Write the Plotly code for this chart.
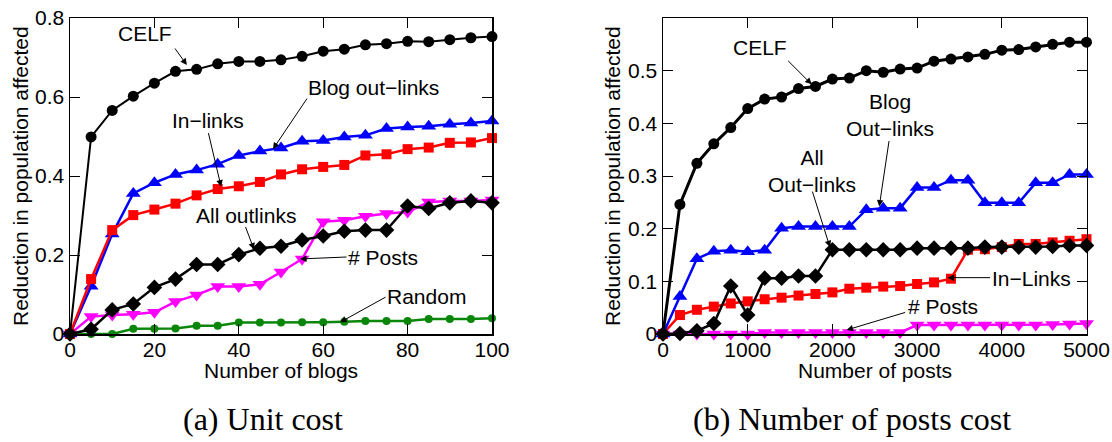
import plotly.graph_objects as go

# ---------------- data: (a) Unit cost ----------------
blogs = [0, 5, 10, 15, 20, 25, 30, 35, 40, 45, 50, 55, 60, 65, 70, 75, 80, 85, 90, 95, 100]
a_celf = [0, 0.499, 0.566, 0.602, 0.635, 0.665, 0.670, 0.684, 0.690, 0.690, 0.694, 0.703,
          0.716, 0.721, 0.732, 0.735, 0.741, 0.740, 0.745, 0.750, 0.753]
a_blog_out = [0, 0.121, 0.253, 0.356, 0.383, 0.404, 0.415, 0.430, 0.452, 0.463, 0.471, 0.488,
              0.490, 0.499, 0.503, 0.520, 0.524, 0.526, 0.531, 0.534, 0.539]
a_in_links = [0, 0.139, 0.263, 0.301, 0.315, 0.330, 0.351, 0.367, 0.374, 0.385, 0.404, 0.417,
              0.423, 0.428, 0.452, 0.455, 0.468, 0.472, 0.484, 0.485, 0.496]
a_all_out = [0, 0.012, 0.061, 0.076, 0.118, 0.139, 0.176, 0.176, 0.201, 0.217, 0.222, 0.238,
             0.248, 0.260, 0.263, 0.263, 0.324, 0.318, 0.332, 0.337, 0.332]
a_posts = [0, 0.044, 0.048, 0.050, 0.055, 0.082, 0.099, 0.120, 0.120, 0.126, 0.157, 0.190,
           0.284, 0.288, 0.298, 0.305, 0.309, 0.334, 0.337, 0.337, 0.339]
a_random = [0, 0, 0, 0.013, 0.013, 0.014, 0.021, 0.021, 0.029, 0.029, 0.029, 0.030,
            0.030, 0.031, 0.033, 0.033, 0.033, 0.038, 0.038, 0.038, 0.040]

# ---------------- data: (b) Number of posts cost ----------------
posts = [0, 200, 400, 600, 800, 1000, 1200, 1400, 1600, 1800, 2000, 2200, 2400, 2600, 2800,
         3000, 3200, 3400, 3600, 3800, 4000, 4200, 4400, 4600, 4800, 5000]
b_celf = [0, 0.246, 0.324, 0.361, 0.392, 0.428, 0.446, 0.450, 0.466, 0.470, 0.484, 0.486,
          0.500, 0.497, 0.503, 0.505, 0.518, 0.522, 0.526, 0.531, 0.539, 0.540, 0.545,
          0.550, 0.554, 0.554]
b_blog_out = [0, 0.071, 0.143, 0.157, 0.159, 0.156, 0.159, 0.201, 0.204, 0.204, 0.204, 0.204,
              0.236, 0.239, 0.239, 0.278, 0.278, 0.292, 0.292, 0.249, 0.249, 0.249, 0.287,
              0.287, 0.303, 0.303]
b_all_out = [0, 0.001, 0.006, 0.020, 0.091, 0.036, 0.106, 0.106, 0.110, 0.110, 0.160, 0.160,
             0.160, 0.160, 0.160, 0.163, 0.163, 0.163, 0.163, 0.165, 0.165, 0.165, 0.165,
             0.166, 0.168, 0.168]
b_in_links = [0, 0.036, 0.046, 0.052, 0.058, 0.062, 0.066, 0.069, 0.073, 0.076, 0.079, 0.086,
              0.088, 0.090, 0.091, 0.095, 0.098, 0.105, 0.160, 0.161, 0.165, 0.171, 0.171,
              0.174, 0.177, 0.180]
b_posts = [0, 0.0, 0.0, 0.0, 0.0, 0.0, 0.003, 0.003, 0.003, 0.003, 0.003, 0.003, 0.003, 0.003,
           0.003, 0.017, 0.017, 0.017, 0.017, 0.017, 0.017, 0.017, 0.017, 0.018, 0.019, 0.020]

a_yticks = [0, 0.2, 0.4, 0.6, 0.8]
a_yticktext = ["0", "0.2", "0.4", "0.6", "0.8"]
a_xticks = [0, 20, 40, 60, 80, 100]
b_yticks = [0, 0.1, 0.2, 0.3, 0.4, 0.5]
b_yticktext = ["0", "0.1", "0.2", "0.3", "0.4", "0.5"]
b_xticks = [0, 1000, 2000, 3000, 4000, 5000]

BLACK, BLUE, RED, MAG, GREEN = "#000000", "#0000ff", "#ff0000", "#ff00ff", "#0a870a"
SANS = "Liberation Sans, Arial, sans-serif"

fig = go.Figure()


def add(x, y, color, symbol, size, width, xa, ya):
    fig.add_trace(go.Scatter(
        x=x, y=y, mode="lines+markers", xaxis=xa, yaxis=ya, cliponaxis=False,
        line=dict(color=color, width=width),
        marker=dict(color=color, symbol=symbol, size=size, line=dict(width=0)),
        showlegend=False, hoverinfo="skip"))


# (a)
add(blogs, a_random, GREEN, "circle", 8, 2.5, "x", "y")
add(blogs, a_posts, MAG, "triangle-down", 13, 2.5, "x", "y")
add(blogs, a_all_out, BLACK, "diamond", 12, 2.5, "x", "y")
add(blogs, a_blog_out, BLUE, "triangle-up", 13, 2.5, "x", "y")
add(blogs, a_in_links, RED, "square", 10, 2.5, "x", "y")
add(blogs, a_celf, BLACK, "circle", 11, 2, "x", "y")
# (b)
add(posts, b_posts, MAG, "triangle-down", 13, 2.5, "x2", "y2")
add(posts, b_in_links, RED, "square", 10, 2.5, "x2", "y2")
add(posts, b_all_out, BLACK, "diamond", 12, 2.5, "x2", "y2")
add(posts, b_blog_out, BLUE, "triangle-up", 13, 2.5, "x2", "y2")
add(posts, b_celf, BLACK, "circle", 11, 3, "x2", "y2")

W, H = 1112, 442
ydom = [(H - 334) / H, (H - 18) / H]

axis_common = dict(showgrid=False, zeroline=False, showline=True, linecolor="black",
                   linewidth=1.5, mirror="ticks", ticks="inside", ticklen=10,
                   tickwidth=1, tickcolor="black", automargin=False,
                   tickfont=dict(family=SANS, size=21, color="black"))

fig.update_layout(
    width=W, height=H, margin=dict(l=0, r=0, t=0, b=0, pad=0), autosize=False,
    paper_bgcolor="white", plot_bgcolor="white",
    xaxis=dict(domain=[70 / W, 492 / W], range=[0, 100], tickvals=a_xticks,
               anchor="y", ticklabelstandoff=-4, **axis_common),
    yaxis=dict(domain=ydom, range=[0, 0.8], tickvals=a_yticks, ticktext=a_yticktext,
               anchor="x", **axis_common),
    xaxis2=dict(domain=[663 / W, 1086.5 / W], range=[0, 5000], tickvals=b_xticks,
                anchor="y2", ticklabelstandoff=-4, **axis_common),
    yaxis2=dict(domain=ydom, range=[0, 0.6], tickvals=b_yticks, ticktext=b_yticktext,
                anchor="x2", **axis_common),
)

ann = []
TF = dict(family=SANS, size=21, color="black")


def label(text, x, y, xref, yref, bg=None):
    d = dict(text=text, x=x, y=y, xref=xref, yref=yref, showarrow=False,
             font=TF, xanchor="center", yanchor="middle")
    if bg:
        d["bgcolor"] = bg
    ann.append(d)


def arrow(x, y, ax, ay, xref, yref):
    ann.append(dict(text="", x=x, y=y, ax=ax, ay=ay, xref=xref, yref=yref,
                    showarrow=True, arrowhead=2, arrowsize=1.3, arrowwidth=1,
                    arrowcolor="black", standoff=0, startstandoff=0))


# (a) annotations
label("CELF", 17.8, 0.761, "x", "y")
arrow(27.7, 0.681, -13, -18, "x", "y")
label("Blog out\u2212links", 71.8, 0.625, "x", "y")
arrow(48.1, 0.468, 35, -52, "x", "y")
label("In\u2212links", 32.6, 0.54, "x", "y")
arrow(35.8, 0.373, -13, -55, "x", "y")
label("All outlinks", 41.6, 0.301, "x", "y")
arrow(43.6, 0.214, -9, -24, "x", "y")
label("# Posts", 74.2, 0.194, "x", "y")
arrow(54.5, 0.19, 48, -2, "x", "y")
label("Random", 84.5, 0.094, "x", "y")
arrow(64, 0.0296, 47, -26, "x", "y")

# (b) annotations
label("CELF", 1145, 0.544, "x2", "y2")
arrow(1755, 0.474, -25, -25, "x2", "y2")
label("Blog<br>Out\u2212links", 2679, 0.416, "x2", "y2")
arrow(2553, 0.242, 10, -67, "x2", "y2")
label("All<br>Out\u2212links", 1755, 0.31, "x2", "y2")
arrow(1971, 0.165, -18, -57, "x2", "y2")
label("In\u2212Links", 4351, 0.106, "x2", "y2", bg="white")
arrow(3360, 0.107, 44, 0, "x2", "y2")
label("# Posts", 3308, 0.052, "x2", "y2")
arrow(2168, 0.0076, 60, -18, "x2", "y2")

# axis titles
ann.append(dict(text="Number of blogs", x=281 / W, y=(H - 370) / H, xref="paper",
                yref="paper", showarrow=False, font=TF, xanchor="center", yanchor="middle"))
ann.append(dict(text="Number of posts", x=875 / W, y=(H - 370) / H, xref="paper",
                yref="paper", showarrow=False, font=TF, xanchor="center", yanchor="middle"))
ann.append(dict(text="Reduction in population affected", x=20 / W, y=(H - 176) / H,
                xref="paper", yref="paper", showarrow=False, font=TF, textangle=-90,
                xanchor="center", yanchor="middle"))
ann.append(dict(text="Reduction in population affected", x=612 / W, y=(H - 176) / H,
                xref="paper", yref="paper", showarrow=False, font=TF, textangle=-90,
                xanchor="center", yanchor="middle"))

# captions
CF = dict(family="Liberation Serif, Times New Roman, serif", size=32, color="black")
ann.append(dict(text="(a) Unit cost", x=263 / W, y=(H - 419) / H, xref="paper",
                yref="paper", showarrow=False, font=CF, xanchor="center", yanchor="middle"))
ann.append(dict(text="(b) Number of posts cost", x=852 / W, y=(H - 419) / H, xref="paper",
                yref="paper", showarrow=False, font=CF, xanchor="center", yanchor="middle"))

fig.update_layout(annotations=ann)
fig.write_html("out.html",
               config={"displayModeBar": False, "staticPlot": True},
               post_script="document.body.style.margin='0px';"
                           "document.body.style.overflow='hidden';")
